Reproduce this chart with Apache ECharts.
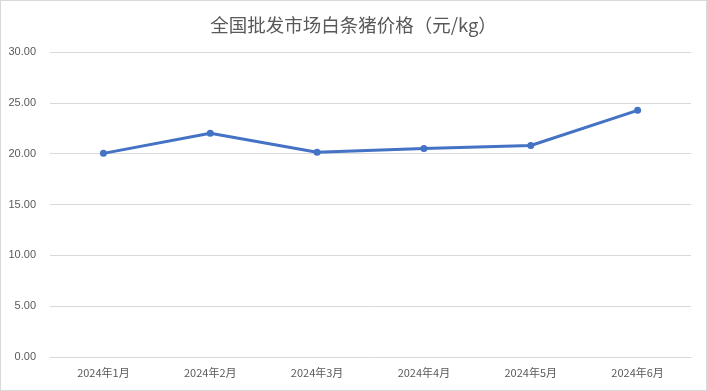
<!DOCTYPE html>
<html><head><meta charset="utf-8">
<script src="https://cdn.jsdelivr.net/npm/echarts@6/dist/echarts.min.js"></script>
<style>html,body{margin:0;padding:0;background:#fff}#c{width:707px;height:391px;box-sizing:border-box;border:1px solid #d9d9d9}</style>
</head><body><div id="c"></div>
<script>
const titleText = '全国批发市场白条猪价格（元/kg）';
const categories = ['2024年1月','2024年2月','2024年3月','2024年4月','2024年5月','2024年6月'];
const prices = [20.03, 22.0, 20.13, 20.52, 20.80, 24.26];
const yMin = 0, yMax = 30, yStep = 5;

const chart = echarts.init(document.getElementById('c'), null, {renderer:'canvas'});
chart.setOption({
  animation:false,
  title:{text:titleText,left:'center',top:10,textStyle:{fontSize:18.5,fontWeight:'normal',color:'#595959',fontFamily:'"Noto Sans CJK SC", sans-serif'}},
  grid:{left:49,right:15,top:51,bottom:33},
  xAxis:{type:'category',data:categories,boundaryGap:true,
    axisLine:{lineStyle:{color:'#d9d9d9',width:1}},axisTick:{show:false},
    axisLabel:{color:'#595959',fontSize:11,margin:10,fontFamily:'"Noto Sans CJK SC", sans-serif'}},
  yAxis:{type:'value',min:yMin,max:yMax,interval:yStep,
    axisLine:{show:false},axisTick:{show:false},
    splitLine:{lineStyle:{color:'#d9d9d9',width:1}},
    axisLabel:{color:'#595959',fontSize:11,margin:14,formatter:v=>v.toFixed(2),fontFamily:'"Liberation Sans", sans-serif'}},
  series:[{type:'line',data:prices,symbol:'circle',symbolSize:7,
    lineStyle:{color:'#4472C4',width:3},itemStyle:{color:'#4472C4'}}]
});
</script></body></html>
